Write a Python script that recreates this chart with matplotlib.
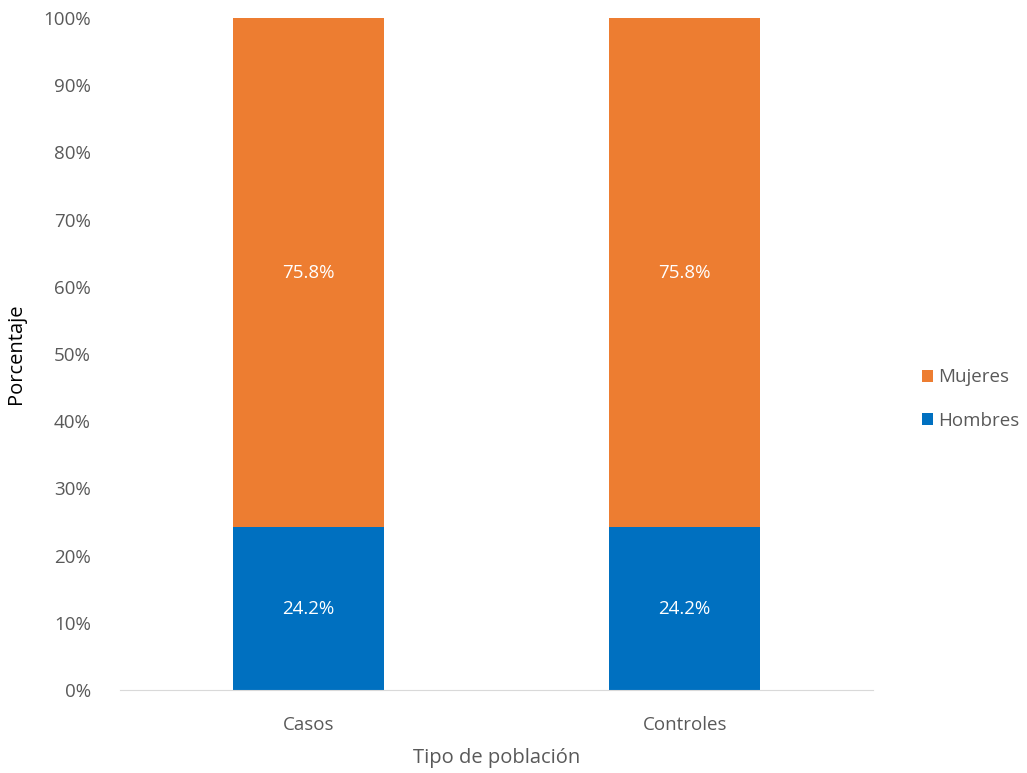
import matplotlib
matplotlib.use('Agg')
import matplotlib.pyplot as plt
import numpy as np

plt.rcParams['font.family'] = ['Open Sans', 'DejaVu Sans']

# data
categorias = ['Casos', 'Controles']
hombres = [24.2, 24.2]
mujeres = [75.8, 75.8]
y_ticks = [0, 10, 20, 30, 40, 50, 60, 70, 80, 90, 100]

gris = '#595959'
c_muj = '#ED7D31'
c_hom = '#0070C0'

fig = plt.figure(figsize=(10.27, 7.73), dpi=100)
ax = fig.add_axes([0.1168, 0.1074, 0.7332, 0.8693])

x = np.arange(len(categorias))
b1 = ax.bar(x, hombres, width=0.4, color=c_hom, label='Hombres')
b2 = ax.bar(x, mujeres, width=0.4, bottom=hombres, color=c_muj, label='Mujeres')

# value labels in the middle of each segment
for xi, h, m in zip(x, hombres, mujeres):
    ax.text(xi, h / 2, f'{h:.1f}%', ha='center', va='center', color='white', fontsize=13.5)
    ax.text(xi, h + m / 2, f'{m:.1f}%', ha='center', va='center', color='white', fontsize=13.5)

ax.set_xlim(-0.5, 1.5)
ax.set_ylim(0, 100)
ax.set_yticks(y_ticks)
ax.set_yticklabels([f'{t}%' for t in y_ticks])
ax.set_xticks(x)
ax.set_xticklabels(categorias)
ax.tick_params(axis='both', length=0, labelsize=13.5, labelcolor=gris)
ax.tick_params(axis='x', pad=19)
ax.tick_params(axis='y', pad=21)

for s in ['top', 'right', 'left']:
    ax.spines[s].set_visible(False)
ax.spines['bottom'].set_color('#D9D9D9')

ax.set_xlabel('Tipo de población', fontsize=14.5, color=gris, labelpad=10)
ax.set_ylabel('Porcentaje', fontsize=14.5, color='black', labelpad=12)

handles = [b2, b1]
fig.legend(handles, ['Mujeres', 'Hombres'], loc='center left', bbox_to_anchor=(0.881, 0.484),
           frameon=False, fontsize=13.5, labelcolor=gris, handlelength=0.6, handleheight=0.6,
           handletextpad=0.3, labelspacing=1.35)

fig.savefig('out.png', dpi=100)
